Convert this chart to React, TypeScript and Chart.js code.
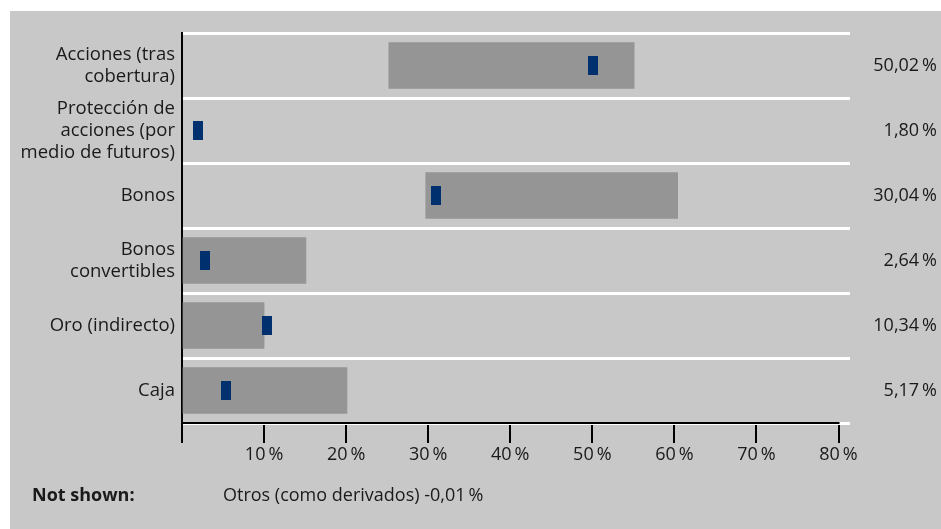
import React, { useEffect, useRef } from 'react';
import { Chart, registerables } from 'chart.js';

Chart.register(...registerables);

// ---- data ----
const categories: (string | string[])[] = [
  ['Acciones (tras', 'cobertura)'],
  ['Protección de', 'acciones (por', 'medio de futuros)'],
  'Bonos',
  ['Bonos', 'convertibles'],
  'Oro (indirecto)',
  'Caja',
];
const rangeStart: (number | null)[] = [25.2, null, 29.7, 0, 0, 0];
const rangeEnd: (number | null)[] = [55.1, null, 60.4, 15.1, 10, 20.1];
const markerValues = [50.1, 1.95, 30.9, 2.8, 10.3, 5.35];
const valueLabels = ['50,02\u2009%', '1,80\u2009%', '30,04\u2009%', '2,64\u2009%', '10,34\u2009%', '5,17\u2009%'];
const xTicks = [0, 10, 20, 30, 40, 50, 60, 70, 80];
const notShownLabel = 'Not shown:';
const notShownText = 'Otros (como derivados) -0,01\u2009%';

const FONT = "'Open Sans', 'DejaVu Sans', sans-serif";
const TEXT = '#1a1a1a';
const BG = '#c8c8c8';
const BAR = '#959595';
const MARK = '#00306e';

function makeMarker(): HTMLCanvasElement {
  const c = document.createElement('canvas');
  c.width = 10;
  c.height = 19;
  const g = c.getContext('2d')!;
  g.fillStyle = MARK;
  g.fillRect(0, 0, 10, 19);
  return c;
}

const extrasPlugin = {
  id: 'extras',
  afterDraw(chart: any) {
    const { ctx, chartArea, scales } = chart;
    const x = scales.x;
    const y = scales.y;
    ctx.save();
    // bottom axis line (0 % .. 80 %)
    ctx.strokeStyle = '#000';
    ctx.lineWidth = 2;
    ctx.beginPath();
    ctx.moveTo(x.getPixelForValue(xTicks[0]) - 1, Math.round(chartArea.bottom));
    ctx.lineTo(x.getPixelForValue(xTicks[xTicks.length - 1]) + 1, Math.round(chartArea.bottom));
    ctx.stroke();
    // right value labels
    ctx.fillStyle = TEXT;
    ctx.font = `18px ${FONT}`;
    ctx.textAlign = 'right';
    ctx.textBaseline = 'middle';
    valueLabels.forEach((t, i) => {
      ctx.fillText(t, chart.width - 4, y.getPixelForValue(i));
    });
    ctx.restore();
  },
};

export default function App() {
  const ref = useRef<HTMLCanvasElement>(null);

  useEffect(() => {
    if (!ref.current) return;
    const marker = makeMarker();
    const chart = new Chart(ref.current, {
      type: 'bar',
      data: {
        labels: categories as any,
        datasets: [
          {
            type: 'bar',
            data: rangeStart.map((s, i) => (s === null ? null : [s, rangeEnd[i] as number])) as any,
            backgroundColor: BAR,
            borderWidth: 0,
            barThickness: 46,
            order: 2,
          },
          {
            type: 'line',
            data: markerValues,
            showLine: false,
            pointStyle: marker as any,
            pointRadius: 6,
            order: 1,
          } as any,
        ],
      },
      options: {
        indexAxis: 'y',
        animation: false,
        responsive: false,
        devicePixelRatio: 1,
        layout: { padding: { top: 22, right: 91, left: 0, bottom: 0 } },
        plugins: {
          legend: { display: false },
          tooltip: { enabled: false },
        },
        scales: {
          x: {
            type: 'linear',
            min: 0,
            max: 81.4,
            ticks: {
              includeBounds: false,
              stepSize: 10,
              padding: 1,
              color: TEXT,
              font: { family: FONT, size: 18 },
              callback: (v: any) => (v === 0 ? '' : `${v}\u2009%`),
            },
            afterBuildTicks: (scale: any) => {
              scale.ticks = xTicks.map((v) => ({ value: v }));
            },
            afterFit: (scale: any) => {
              scale.height = 106;
            },
            grid: {
              display: true,
              drawOnChartArea: false,
              drawTicks: true,
              tickLength: 20,
              color: '#000',
              lineWidth: 2,
            },
            border: { display: false },
          },
          y: {
            type: 'category',
            offset: true,
            ticks: {
              autoSkip: false,
              padding: 7,
              color: TEXT,
              font: { family: FONT, size: 18.5, lineHeight: 1.2 },
            },
            afterFit: (scale: any) => {
              scale.width = 172;
            },
            grid: {
              offset: true,
              display: true,
              drawTicks: false,
              color: '#ffffff',
              lineWidth: 3,
            },
            border: { display: true, color: '#000', width: 2 },
          },
        },
      },
      plugins: [extrasPlugin],
    } as any);
    return () => chart.destroy();
  }, []);

  return (
    <div style={{ position: 'fixed', left: 0, top: 0, width: 941, height: 529, background: '#fff' }}>
      <div style={{ position: 'absolute', left: 10, top: 11, width: 931, height: 518, background: BG }}>
        <canvas ref={ref} width={931} height={518} style={{ position: 'absolute', left: 0, top: 0, width: 931, height: 518 }} />
        <div
          style={{
            position: 'absolute',
            left: 22,
            top: 472,
            fontFamily: FONT,
            fontSize: 18,
            fontWeight: 'bold',
            color: TEXT,
            lineHeight: '22px',
            whiteSpace: 'nowrap',
          }}
        >
          {notShownLabel}
        </div>
        <div
          style={{
            position: 'absolute',
            left: 213,
            top: 472,
            fontFamily: FONT,
            fontSize: 18,
            color: TEXT,
            lineHeight: '22px',
            whiteSpace: 'nowrap',
          }}
        >
          {notShownText}
        </div>
      </div>
    </div>
  );
}
